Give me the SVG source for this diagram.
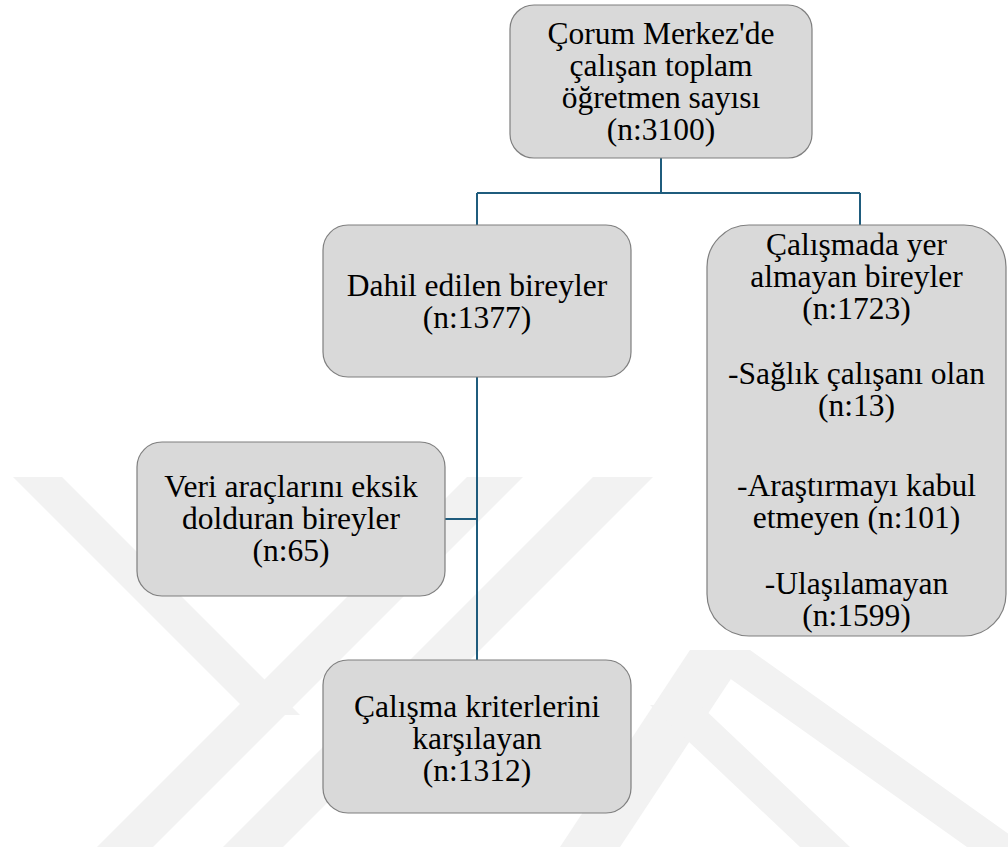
<svg xmlns="http://www.w3.org/2000/svg" width="1008" height="849" viewBox="0 0 1008 849">
<style>
.box{fill:#d9d9d9;stroke:#7f7f7f;stroke-width:1.2}
.t{font-family:"Liberation Serif","Times New Roman",serif;font-size:31.5px;fill:#000;text-anchor:middle}
.c{fill:none;stroke:#1f5c7d;stroke-width:2}
.wm{fill:#f2f2f2}
</style>
<rect width="1008" height="849" fill="#ffffff"/>
<g id="watermark">
<polygon class="wm" points="13,477 62,477 300,715 251,715"/>
<polygon class="wm" points="467,477 523,477 153,847 97,847"/>
<polygon class="wm" points="593,477 653,477 283,847 223,847"/>
<polygon class="wm" points="690,650 750,650 1027,847 967,847"/>
<polygon class="wm" points="560,847 620,847 750,650 690,650"/>
<polygon class="wm" points="650,705 700,705 850,847 800,847"/>
</g>
<g id="connectors">
<path class="c" d="M661,158 V193 M477,193 H860 M477,193 V225 M860,193 V225"/>
<path class="c" d="M477,377 V660"/>
<path class="c" d="M445,519 H477"/>
</g>
<g id="n-total">
<rect class="box" x="510" y="5" width="302" height="153" rx="24"/>
<text class="t" x="661" y="44">Çorum Merkez'de</text>
<text class="t" x="661" y="76">çalışan toplam</text>
<text class="t" x="661" y="108">öğretmen sayısı</text>
<text class="t" x="661" y="140">(n:3100)</text>
</g>
<g id="n-dahil">
<rect class="box" x="323" y="225" width="308" height="152" rx="25"/>
<text class="t" x="477" y="296">Dahil edilen bireyler</text>
<text class="t" x="477" y="328">(n:1377)</text>
</g>
<g id="n-disarida">
<rect class="box" x="707" y="225" width="299" height="411" rx="42"/>
<text class="t" x="856.5" y="255">Çalışmada yer</text>
<text class="t" x="856.5" y="287">almayan bireyler</text>
<text class="t" x="856.5" y="319">(n:1723)</text>
<text class="t" x="856.5" y="384">-Sağlık çalışanı olan</text>
<text class="t" x="856.5" y="416">(n:13)</text>
<text class="t" x="856.5" y="496">-Araştırmayı kabul</text>
<text class="t" x="856.5" y="528">etmeyen (n:101)</text>
<text class="t" x="856.5" y="594">-Ulaşılamayan</text>
<text class="t" x="856.5" y="626">(n:1599)</text>
</g>
<g id="n-eksik">
<rect class="box" x="137" y="442" width="308" height="154" rx="25"/>
<text class="t" x="291" y="497">Veri araçlarını eksik</text>
<text class="t" x="291" y="529">dolduran bireyler</text>
<text class="t" x="291" y="561">(n:65)</text>
</g>
<g id="n-uygun">
<rect class="box" x="323" y="660" width="308" height="153" rx="25"/>
<text class="t" x="477" y="717">Çalışma kriterlerini</text>
<text class="t" x="477" y="749">karşılayan</text>
<text class="t" x="477" y="781">(n:1312)</text>
</g>
</svg>
